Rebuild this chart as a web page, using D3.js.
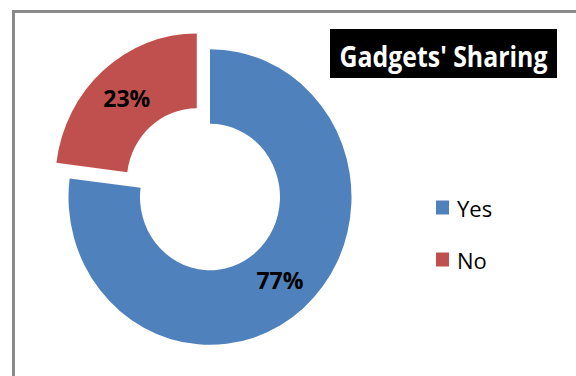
<!DOCTYPE html>
<html>
<head>
<meta charset="utf-8">
<script src="https://cdn.jsdelivr.net/npm/d3@7"></script>
<style>
  html, body { margin: 0; padding: 0; background: #fff; }
  svg { display: block; }
</style>
</head>
<body>
<svg id="chart" width="576" height="376"></svg>
<script>
// Survey answers: do respondents share their gadgets?
const categories = ["Yes", "No"];
const values = [77, 23];
const colors = ["#4F81BD", "#C0504D"];
const labels = ["77%", "23%"];
const title = "Gadgets' Sharing";

const svg = d3.select("#chart");
const W = 576, H = 376;

// Chart frame (only the top and left edges fall inside the view)
svg.append("rect")
  .attr("x", 13.5).attr("y", 11.5)
  .attr("width", W + 20).attr("height", H + 20)
  .attr("fill", "#fff")
  .attr("stroke", "#8a8a8a")
  .attr("stroke-width", 3);

// Doughnut geometry
const cx = 210, cy = 197;
const outerR = 141.5, innerR = 70;
const stretchY = 1.045;      // plot area is slightly taller than wide
const explode = 20;          // offset of the pulled-out "No" slice

const pie = d3.pie().sort(null).value(d => d).startAngle(0).endAngle(2 * Math.PI);
const arcs = pie(values);
const arc = d3.arc().innerRadius(innerR).outerRadius(outerR);

function offsetFor(d, i) {
  if (categories[i] !== "No") return [0, 0];
  const mid = (d.startAngle + d.endAngle) / 2;
  return [Math.sin(mid) * explode, -Math.cos(mid) * explode];
}

const g = svg.append("g")
  .attr("transform", `translate(${cx},${cy}) scale(1,${stretchY})`);

g.selectAll("path.slice")
  .data(arcs)
  .join("path")
  .attr("class", "slice")
  .attr("d", arc)
  .attr("fill", (d, i) => colors[i])
  .attr("transform", (d, i) => {
    const [dx, dy] = offsetFor(d, i);
    return `translate(${dx},${dy})`;
  });

// Percentage labels at slice centroids
svg.selectAll("text.pct")
  .data(arcs)
  .join("text")
  .attr("class", "pct")
  .attr("x", (d, i) => cx + arc.centroid(d)[0] + offsetFor(d, i)[0])
  .attr("y", (d, i) => cy + (arc.centroid(d)[1] + offsetFor(d, i)[1]) * stretchY)
  .attr("text-anchor", "middle")
  .attr("dominant-baseline", "central")
  .attr("font-family", "'Open Sans', 'Noto Sans', sans-serif")
  .attr("font-weight", "bold")
  .attr("font-size", 23)
  .attr("fill", "#000")
  .text((d, i) => labels[i]);

// Title box
const tb = { x: 330, y: 29, w: 227, h: 49 };
svg.append("rect")
  .attr("x", tb.x).attr("y", tb.y)
  .attr("width", tb.w).attr("height", tb.h)
  .attr("fill", "#000");
const titleText = svg.append("text")
  .attr("x", 0)
  .attr("y", 0)
  .attr("text-anchor", "middle")
  .attr("font-family", "'Open Sans', 'Noto Sans', sans-serif")
  .attr("font-weight", "bold")
  .attr("font-size", 28)
  .attr("fill", "#fff")
  .attr("transform", `translate(${tb.x + tb.w / 2},67) scale(1,1.12)`)
  .text(title);
// keep the title within the box width
const tw = titleText.node().getComputedTextLength();
if (tw > 208) titleText.attr("font-size", 28 * 208 / tw);

// Legend
const legendY = d3.scalePoint().domain(categories).range([207.5, 259.5]);
const legend = svg.selectAll("g.legend")
  .data(categories)
  .join("g")
  .attr("class", "legend")
  .attr("transform", d => `translate(436,${legendY(d)})`);
legend.append("rect")
  .attr("x", 0).attr("y", -7)
  .attr("width", 13).attr("height", 14)
  .attr("fill", (d, i) => colors[i]);
legend.append("text")
  .attr("x", 21)
  .attr("y", 0)
  .attr("dominant-baseline", "central")
  .attr("font-family", "'Open Sans', 'Noto Sans', sans-serif")
  .attr("font-size", 22)
  .attr("fill", "#000")
  .text(d => d);
</script>
</body>
</html>
